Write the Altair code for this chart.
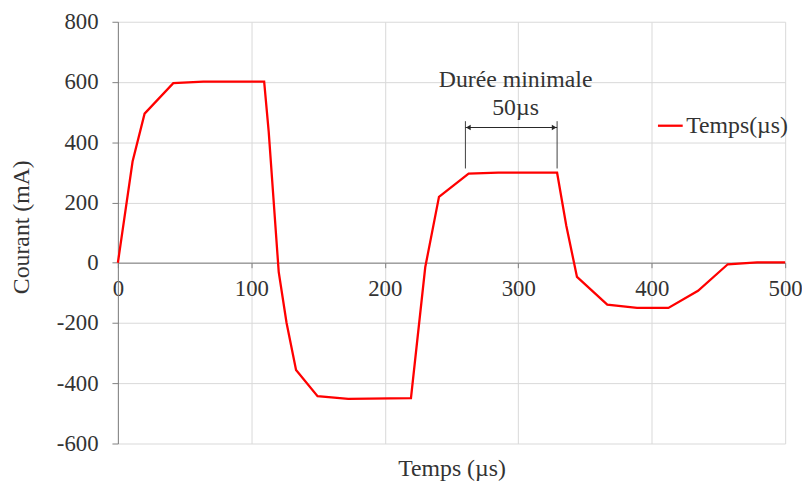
import altair as alt
import pandas as pd

# Main series
time_us = [0, 11, 20, 41.5, 64, 109.6, 113, 120.5, 126.4, 133.5, 149.6, 172.6,
           219.6, 230.3, 240.6, 262.8, 285, 329.1, 336, 344, 366.7, 389, 412.5,
           434.7, 457, 479, 500]
current_ma = [0, 336, 495, 596, 601, 601, 435, -30, -200, -356, -443, -452,
              -449, -15, 219, 296, 299, 299, 123, -47, -139, -150, -150,
              -93, -5, 1, 1]
series_name = "Temps(µs)"

# Axis ticks
x_ticks = [0, 100, 200, 300, 400, 500]
y_ticks = [-600, -400, -200, 0, 200, 400, 600, 800]

# Annotation (data units)
ann_lines = ["Durée minimale", "50µs"]
ann_x = [298, 298]
ann_y = [606, 514]
bracket_x = [260.4, 329.1]
bracket_top = [470, 470]
bracket_bottom = [313, 313]
arrow_y = 449
arrow_tips = [262.6, 326.9]
arrow_shapes = ["triangle-left", "triangle-right"]

FONT = "Liberation Serif"
TXT = "#333333"
TICK_FS = 23
TEXT_FS = 24

x_scale = alt.Scale(domain=[0, 500], nice=False)
y_scale = alt.Scale(domain=[-600, 800], nice=False)
x_axis = alt.Axis(values=x_ticks, title="Temps (µs)", offset=-182.6,
                  grid=True, gridColor="#d9d9d9", domainColor="#7f7f7f",
                  tickColor="#7f7f7f", tickSize=5, labelFont=FONT,
                  labelFontSize=TICK_FS, labelColor=TXT, labelPadding=10,
                  labelFlush=False, labelOverlap=False,
                  labelExpr="'' + datum.value",
                  titleFont=FONT, titleFontSize=TEXT_FS, titleFontWeight="normal",
                  titleColor=TXT, titleY=215, titleBaseline="alphabetic")
y_axis = alt.Axis(values=y_ticks, title="Courant (mA)", grid=True,
                  gridColor="#d9d9d9", domainColor="#7f7f7f",
                  tickColor="#7f7f7f", tickSize=6, labelFont=FONT,
                  labelFontSize=TICK_FS, labelColor=TXT, labelPadding=14,
                  labelFlush=False, labelOverlap=False,
                  labelExpr="'' + datum.value",
                  titleFont=FONT, titleFontSize=TEXT_FS, titleFontWeight="normal",
                  titleColor=TXT, titleX=-97, titleY=207,
                  titleBaseline="middle", titleAlign="center")


def X(field):
    return alt.X(field, type="quantitative", scale=x_scale, axis=x_axis)


def Y(field):
    return alt.Y(field, type="quantitative", scale=y_scale, axis=y_axis)


df = pd.DataFrame({"t": time_us, "i": current_ma, "s": [series_name] * len(time_us)})

line = alt.Chart(df).mark_line(strokeWidth=2.3).encode(
    x=X("t"), y=Y("i"),
    color=alt.Color("s:N", scale=alt.Scale(domain=[series_name], range=["#ff0000"]),
                    legend=alt.Legend(title=None, orient="none", legendX=544, legendY=91,
                                      symbolType="stroke", symbolSize=625,
                                      symbolStrokeWidth=2.3, labelFont=FONT,
                                      labelFontSize=TEXT_FS, labelColor=TXT, labelOffset=2,
                                      padding=0)),
)

bracket_df = pd.DataFrame({"t": bracket_x, "i": bracket_top, "i2": bracket_bottom})
brackets = alt.Chart(bracket_df).mark_rule(color="#404040", strokeWidth=1).encode(
    x=X("t"), y=Y("i"), y2="i2:Q")

hline_df = pd.DataFrame({"t": [bracket_x[0]], "t2": [bracket_x[1]], "i": [arrow_y]})
hline = alt.Chart(hline_df).mark_rule(color="#262626", strokeWidth=1).encode(
    x=X("t"), x2="t2:Q", y=Y("i"))

arrow_df = pd.DataFrame({"t": arrow_tips, "i": [arrow_y] * 2, "sh": arrow_shapes})
arrows = alt.Chart(arrow_df).mark_point(filled=True, size=30, color="#262626", opacity=1).encode(
    x=X("t"), y=Y("i"),
    shape=alt.Shape("sh:N", scale=alt.Scale(domain=arrow_shapes, range=arrow_shapes), legend=None))

ann_df = pd.DataFrame({"t": ann_x, "i": ann_y, "txt": ann_lines})
ann = alt.Chart(ann_df).mark_text(font=FONT, fontSize=TEXT_FS, color=TXT, baseline="middle").encode(
    x=X("t"), y=Y("i"), text="txt:N")

chart = alt.layer(line, brackets, hline, arrows, ann).properties(
    width=674, height=426,
    autosize=alt.AutoSizeParams(type="none"),
    padding={"left": 111, "top": 11.5, "right": 17, "bottom": 40},
).configure_view(stroke=None)

chart.save("out.html", embed_options={"renderer": "svg", "actions": False})
